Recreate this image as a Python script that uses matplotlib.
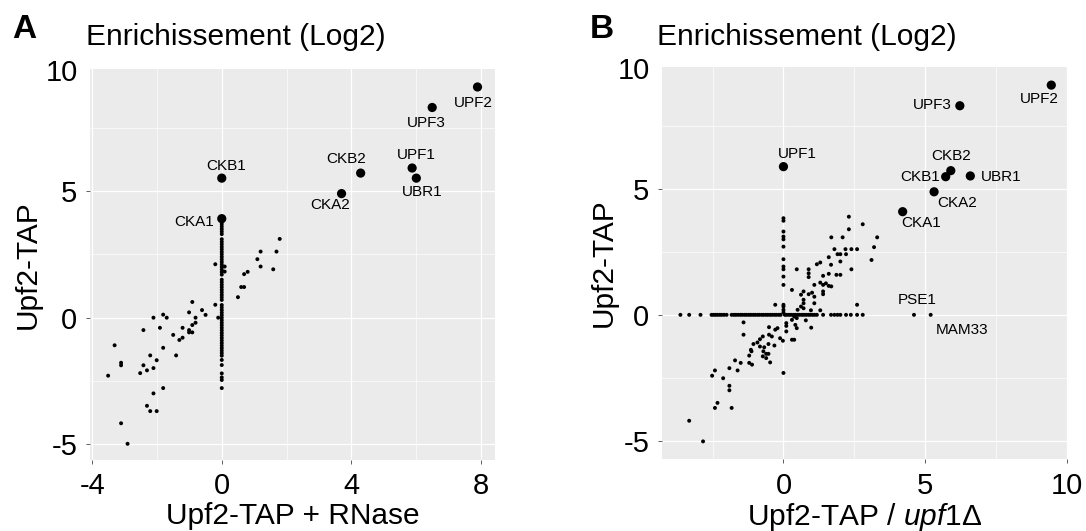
import numpy as np
import matplotlib
matplotlib.use("Agg")
import matplotlib.pyplot as plt

plt.rcParams['font.family'] = ['Liberation Sans', 'DejaVu Sans']
plt.rcParams['mathtext.fontset'] = 'custom'
plt.rcParams['mathtext.rm'] = 'Liberation Sans'
plt.rcParams['mathtext.it'] = 'Liberation Sans:italic'
plt.rcParams['axes.unicode_minus'] = False

# ---- panel A : Upf2-TAP vs Upf2-TAP + RNase ----
a_names = ['UPF2', 'UPF3', 'CKB2', 'UPF1', 'UBR1', 'CKA2', 'CKB1', 'CKA1']
a_lab_x = [7.90, 6.50, 4.29, 5.88, 6.01, 3.70, 0.0, 0.0]
a_lab_y = [9.11, 8.30, 5.71, 5.91, 5.51, 4.90, 5.51, 3.91]

a_x = [-3.51, -3.31, -3.11, -3.11, -3.11, -2.91, -2.52, -2.42, -2.42, -2.31,
       -2.31, -2.21, -2.21, -2.11, -2.11, -2.11, -2.01, -2.01, -1.91, -1.81,
       -1.70, -1.81, -1.81, -1.50, -1.41, -1.31, -1.21, -1.21, -1.01, -1.01,
       -1.01, -0.91, -0.91, -0.91, -0.81, -0.81, -0.61, -0.50, -0.20, -0.20,
       -0.11, 0.09, 0.09, 0.50, 0.60, 0.69, 0.69, 0.80, 1.10, 1.20,
       1.20, 1.59, 1.69, 1.79]
a_y = [-2.29, -1.09, -1.78, -1.88, -4.17, -4.98, -2.19, -0.49, -1.88, -2.08,
       -3.48, -1.49, -3.69, 0.00, -1.99, -2.99, -1.68, -3.69, -0.40, 0.12,
       0.00, -1.19, -2.78, -0.68, -1.49, -0.88, -0.79, -0.40, 0.21, -0.49,
       -0.58, 0.62, -0.58, -0.29, -0.20, 0.00, 0.30, 0.11, 0.51, 2.11,
       0.00, 2.02, 1.82, 0.81, 1.21, 1.21, 1.72, 1.81, 2.31, 2.02,
       2.61, 1.91, 2.61, 3.11]
# proteins with no signal after RNase (x = 0)
a_col_y = [3.80, 3.70, 3.60, 3.50, 3.40, 3.30, 3.10, 3.00, 2.90, 2.80,
           2.70, 2.60, 2.50, 2.40, 2.30, 2.20, 2.10, 2.00, 1.90, 1.80,
           1.70, 1.50, 1.40, 1.30, 1.20, 1.10, 1.00, 0.90, 0.80, 0.70,
           0.50, 0.40, 0.30, 0.20, 0.10, 0.00, -0.10, -0.20, -0.30, -0.40,
           -0.50, -0.60, -0.70, -0.80, -0.90, -1.00, -1.10, -1.20, -1.30, -1.40,
           -1.50, -1.67, -1.87, -2.20, -2.36, -2.46, -2.78]

# ---- panel B : Upf2-TAP vs Upf2-TAP / upf1 delta ----
b_names = ['UPF2', 'UPF3', 'UPF1', 'CKB2', 'CKB1', 'UBR1', 'CKA2', 'CKA1', 'PSE1', 'MAM33']
b_lab_x = [9.46, 6.23, 0.0, 5.91, 5.73, 6.60, 5.32, 4.21, 4.61, 5.20]
b_lab_y = [9.13, 8.31, 5.89, 5.73, 5.49, 5.52, 4.89, 4.10, 0.0, 0.0]
b_big = ['UPF2', 'UPF3', 'UPF1', 'CKB2', 'CKB1', 'UBR1', 'CKA2', 'CKA1']

b_x = [2.31, 2.80, 2.31, 1.69, 2.09, 1.80, 2.19, 2.40, 2.60, 1.91,
       2.01, 2.21, 1.60, 1.30, 1.68, 2.01, 1.18, 0.89, 0.89, 0.89,
       0.47, 1.60, 1.40, 1.87, 2.01, 2.40, 1.40, 1.30, 1.50, 1.60,
       1.69, 1.09, 1.40, 1.40, 1.09, 1.01, 0.89, 0.71, 0.62, 0.30,
       0.71, 0.71, 1.09, 0.62, 0.71, 0.50, 0.97, 1.30, 2.60, -0.29,
       3.11, 3.20, 3.31,
       0.38, 0.47, 0.30, 0.79, 0.42, 0.47, 0.10, 0.10, 0.10, -0.12,
       -0.02, 0.30, 0.38, 0.98, -0.21, -0.29, -0.51, -0.51, -0.41, -0.53,
       -0.32, -0.73, -0.83, -0.92, -1.06, -0.83, -0.68, -1.15, -0.71, -0.61,
       -0.53, -0.73, -0.61, -0.47, -1.13, -1.21, -1.21, -1.11, -1.41, -1.41,
       -1.51, -1.71, -1.62, -1.91, -1.91, -1.91, -2.13, -2.42, -2.52, -2.33,
       -2.42, -1.83, -3.33, -2.84]
b_y = [3.90, 3.60, 3.40, 3.08, 3.08, 2.61, 2.61, 2.61, 2.61, 2.41,
       2.41, 2.41, 2.29, 2.08, 1.99, 2.12, 2.01, 1.81, 1.65, 1.50,
       1.81, 1.63, 1.55, 1.59, 1.59, 1.81, 1.19, 1.28, 1.25, 1.15,
       1.13, 1.19, 0.93, 0.82, 0.72, 0.88, 0.82, 0.93, 0.80, 0.99,
       0.60, 0.46, 0.46, 0.33, 0.26, 0.20, 0.18, 0.18, 0.40, 0.40,
       2.18, 2.69, 3.08,
       -0.07, -0.13, -0.20, -0.22, -0.40, -0.53, -0.33, -0.44, -0.66, -0.93,
       -1.03, -0.99, -0.99, -0.51, -0.53, -0.59, -0.49, -0.79, -0.86, -1.16,
       -1.22, -0.86, -0.97, -1.10, -1.16, -1.26, -1.29, -1.39, -1.45, -1.55,
       -1.55, -1.65, -1.72, -1.89, -1.45, -1.62, -1.91, -1.98, -0.30, -0.79,
       -1.91, -1.81, -2.21, -2.12, -2.82, -3.00, -2.52, -2.21, -2.42, -3.50,
       -3.70, -3.70, -4.21, -5.03]
# not detected in upf1 delta (x = 0)
b_col_y = [3.84, 3.74, 3.31, 3.11, 3.00, 2.71, 2.21, 1.92, 1.81, 1.52,
           1.19, 0.40, 0.33, 0.20, 0.10, -2.31]
# not detected in Upf2-TAP (y = 0)
b_row_x = [-3.64, -3.33, -2.93, -2.54, -2.47, -2.40, -2.33, -2.25, -2.18, -2.10,
           -2.01, -1.83, -1.75, -1.68, -1.60, -1.52, -1.45, -1.37, -1.30, -1.22,
           -1.15, -1.07, -1.00, -0.92, -0.85, -0.77, -0.70, -0.62, -0.55, -0.47,
           -0.40, -0.32, -0.25, -0.17, -0.10, 0.05, 0.12, 0.20, 0.27, 0.35,
           0.42, 0.50, 0.57, 0.65, 0.72, 0.80, 0.88, 0.95, 1.03, 1.10,
           1.18, 1.40, 1.68, 1.80, 1.91, 2.01, 2.21, 2.38, 2.60, 2.80]

# label offsets in points (dx, dy)
a_off = {'UPF2': (-3, -11.5), 'UPF3': (-4.5, -11.3), 'CKB2': (-10.8, 10.3),
         'UPF1': (3.1, 9.1), 'UBR1': (4.3, -10.3), 'CKA2': (-7.9, -8.4),
         'CKB1': (3.1, 8.4), 'CKA1': (-19.7, -2.7)}
b_off = {'UPF2': (-8.4, -10.3), 'UPF3': (-19.7, 0.5), 'UPF1': (10.1, 8.9),
         'CKB2': (0, 10.8), 'CKB1': (-18.5, -0.5), 'UBR1': (22.1, -0.5),
         'CKA2': (16.3, -8.4), 'CKA1': (13, -8.4), 'PSE1': (2.4, 10.6),
         'MAM33': (22.3, -11)}

fig = plt.figure(figsize=(10.86, 5.31), dpi=100)
axA = fig.add_axes([90/1086, 1-460/531, 405/1086, 391/531])
axB = fig.add_axes([662/1086, 1-459/531, 406/1086, 392/531])


def style_axes(ax, xmaj, xmin, xlim, ylim):
    ax.set_facecolor('#EBEBEB')
    for s in ax.spines.values():
        s.set_visible(False)
    ax.set_xlim(*xlim)
    ax.set_ylim(*ylim)
    ax.set_xticks(xmaj)
    ax.set_xticks(xmin, minor=True)
    ax.set_yticks([-5, 0, 5])
    ax.set_yticks([-2.5, 2.5, 7.5], minor=True)
    ax.grid(True, which='major', color='white', lw=0.9)
    ax.grid(True, which='minor', color='white', lw=0.45)
    ax.set_axisbelow(True)
    ax.tick_params(which='major', length=3, width=0.6, color='#444444',
                   labelsize=21, pad=6)
    ax.tick_params(which='minor', length=0)
    # "10" sits at the very top edge of the panel
    ax.annotate('10', xy=(0, 0.99), xycoords='axes fraction', xytext=(-9, 0),
                textcoords='offset points', ha='right', va='center', fontsize=21)


style_axes(axA, [-4, 0, 4, 8], [-2, 2, 6], (-4.07, 8.44), (-5.62, 9.82))
style_axes(axB, [0, 5, 10], [-2.5, 2.5, 7.5], (-4.29, 10.05), (-5.73, 9.85))

# panel A points
small = dict(s=8, color='black', edgecolors='none', zorder=3)
big = dict(s=44, color='black', edgecolors='none', zorder=4)
axA.scatter(a_x, a_y, **small)
axA.scatter(np.zeros(len(a_col_y)), a_col_y, **small)
axA.scatter(a_lab_x, a_lab_y, **big)
for n, x, y in zip(a_names, a_lab_x, a_lab_y):
    axA.annotate(n, (x, y), xytext=a_off[n], textcoords='offset points',
                 ha='center', va='center', fontsize=11, zorder=5)

# panel B points
axB.scatter(b_x, b_y, **small)
axB.scatter(np.zeros(len(b_col_y)), b_col_y, **small)
axB.scatter(b_row_x, np.zeros(len(b_row_x)), **small)
for n, x, y in zip(b_names, b_lab_x, b_lab_y):
    axB.scatter([x], [y], **(big if n in b_big else small))
    axB.annotate(n, (x, y), xytext=b_off[n], textcoords='offset points',
                 ha='center', va='center', fontsize=11, zorder=5)

axA.set_xlabel('Upf2-TAP + RNase', fontsize=21.5, labelpad=1)
axA.set_ylabel('Upf2-TAP', fontsize=21.5, labelpad=7)
axB.set_xlabel(r'Upf2-TAP / $\mathit{upf1Δ}$', fontsize=21.5, labelpad=1)
axB.set_ylabel('Upf2-TAP', fontsize=21.5, labelpad=4)

fig.text(12/1086, 1-38/531, 'A', fontsize=24, fontweight='bold', va='baseline')
fig.text(86/1086, 1-45/531, 'Enrichissement (Log2)', fontsize=21.5, va='baseline')
fig.text(590/1086, 1-38/531, 'B', fontsize=24, fontweight='bold', va='baseline')
fig.text(657/1086, 1-45/531, 'Enrichissement (Log2)', fontsize=21.5, va='baseline')

fig.savefig('out.png', dpi=100)
